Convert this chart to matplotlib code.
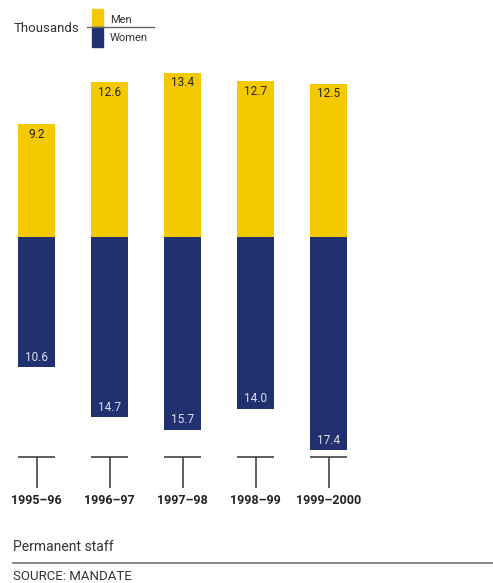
import matplotlib.pyplot as plt
from matplotlib.patches import Rectangle
from matplotlib.lines import Line2D

years = ["1995–96", "1996–97", "1997–98", "1998–99", "1999–2000"]
men = [9.2, 12.6, 13.4, 12.7, 12.5]
women = [10.6, 14.7, 15.7, 14.0, 17.4]

yellow = "#F5C900"
navy = "#21306E"
W, H = 493, 583

plt.rcParams['font.family'] = ['Roboto', 'DejaVu Sans']

fig = plt.figure(figsize=(W / 100, H / 100), dpi=100)
ax = fig.add_axes([0, 0, 1, 1])
ax.set_axis_off()

# pixel layout: first bar centred at 36.5px, 73px apart, baseline at 237px from top
px_per_unit = 12.27
x0, step = 36.5, 73.0
ax.set_xlim(-x0 / step, (W - x0) / step)
base = H - 237
ax.set_ylim(-base / px_per_unit, (H - base) / px_per_unit)

xs = range(len(years))
width = 37 / step
ax.bar(xs, men, width=width, color=yellow)
ax.bar(xs, [-v for v in women], width=width, color=navy)

off = 10 / px_per_unit
for i in xs:
    ax.text(i, men[i] - off, f"{men[i]:.1f}", ha="center", va="center",
            fontsize=8.5, color="#222222")
    ax.text(i, -women[i] + off, f"{women[i]:.1f}", ha="center", va="center",
            fontsize=8.5, color="#dde0ee")

# T-shaped markers and year labels below the bars
tr = ax.get_xaxis_transform()
for i in xs:
    ax.plot([i - width / 2, i + width / 2], [1 - 457 / H] * 2, color="#333333",
            lw=1.1, transform=tr, solid_capstyle="butt")
    ax.plot([i, i], [1 - 457 / H, 1 - 488 / H], color="#333333", lw=1.1,
            transform=tr, solid_capstyle="butt")
    ax.text(i, 1 - 501 / H, years[i], ha="center", va="center", fontsize=9,
            fontweight="bold", color="#222222", transform=tr)


def fx(px):
    return px / W


def fy(py):
    return 1 - py / H


# legend
fig.text(fx(14), fy(28), "Thousands", ha="left", va="center", fontsize=9.5, color="#333333")
fig.patches.append(Rectangle((fx(92), fy(27)), fx(11), 18 / H, color=yellow,
                             transform=fig.transFigure))
fig.patches.append(Rectangle((fx(92), fy(47)), fx(11), 20 / H, color=navy,
                             transform=fig.transFigure))
fig.lines.append(Line2D([fx(87), fx(154)], [fy(27), fy(27)], color="#666666", lw=1,
                        transform=fig.transFigure))
fig.text(fx(110), fy(20), "Men", ha="left", va="center", fontsize=8, color="#333333")
fig.text(fx(110), fy(38), "Women", ha="left", va="center", fontsize=8, color="#333333")

# footer
fig.text(fx(13), fy(547), "Permanent staff", ha="left", va="center", fontsize=10, color="#333333")
fig.lines.append(Line2D([fx(13), 1], [fy(563), fy(563)], color="#777777", lw=1.2,
                        transform=fig.transFigure))
fig.text(fx(13), fy(577), "SOURCE: MANDATE", ha="left", va="center", fontsize=9.5, color="#333333")

fig.savefig("out.png", dpi=100)
